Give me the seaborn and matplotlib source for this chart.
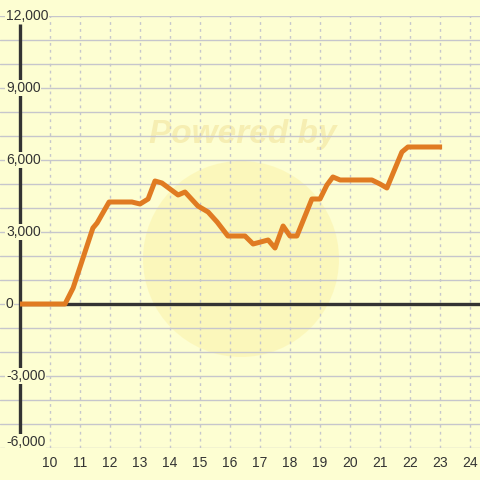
import matplotlib
matplotlib.use('Agg')
import matplotlib.pyplot as plt
import matplotlib.transforms as mtransforms
from matplotlib.patches import Circle
import pandas as pd
import seaborn as sns

# values
hours = [9.0, 10.5, 10.77, 11.43, 11.57, 11.97, 12.73, 13.0, 13.27, 13.5, 13.73,
         14.27, 14.5, 14.93, 15.27, 15.57, 15.93, 16.5, 16.77, 17.27, 17.5, 17.77,
         18.0, 18.23, 18.73, 19.0, 19.23, 19.43, 19.67, 20.73, 21.0, 21.23, 21.73,
         21.93, 23.07]
balance = [0, 0, 667, 3167, 3375, 4250, 4250, 4167, 4375, 5125, 5042,
           4542, 4667, 4083, 3833, 3417, 2833, 2833, 2500, 2667, 2333, 3250,
           2833, 2833, 4375, 4375, 4958, 5292, 5167, 5167, 5000, 4833, 6333,
           6542, 6542]
x_ticks = list(range(10, 25))
y_labels = [12000, 9000, 6000, 3000, 0, -3000, -6000]

bg = '#fdfed2'
sns.set_style('whitegrid', {'axes.facecolor': bg, 'figure.facecolor': bg})
plt.rcParams['font.family'] = ['Liberation Sans', 'DejaVu Sans']

fig = plt.figure(figsize=(4.8, 4.8), dpi=100)
ax = fig.add_axes([0, 32 / 480, 1, 432 / 480])

df = pd.DataFrame({'hour': hours, 'balance': balance})

# watermark
ax.add_patch(Circle((241 / 480, 1 - 259 / 480), 98 / 480, transform=fig.transFigure,
                    facecolor='#fbf1a6', alpha=0.5, edgecolor='none', zorder=0.2))
ax.text(243 / 480, 1 - 134 / 480, 'Powered by', transform=fig.transFigure,
        ha='center', va='center', fontsize=24, fontweight='bold', fontstyle='italic',
        color='#f6eeb2', zorder=0.3)

ax.set_xlim(10 - 50 / 30, 10 + 430 / 30)
ax.set_ylim(-6000, 12000)
ax.set_xticks(x_ticks)
ax.set_yticks(range(-6000, 12001, 1000))
ax.set_yticklabels([])
ax.grid(axis='y', color='#c6c6cc', linewidth=1, linestyle='-')
ax.grid(axis='x', color='#c6c6cc', linewidth=1, linestyle=(0, (2, 3)))
ax.tick_params(axis='x', length=0, pad=6, labelsize=10, labelcolor='#333333')
ax.tick_params(axis='y', length=0)
for s in ax.spines.values():
    s.set_visible(False)

# axis lines
ax.plot([9, 9], [-5500, 11667], color='#333333', lw=2.4, zorder=2, solid_capstyle='butt')
ax.plot([9, 10 + 430 / 30], [0, 0], color='#333333', lw=2.4, zorder=2, solid_capstyle='butt')

sns.lineplot(data=df, x='hour', y='balance', ax=ax, color='#e07b22', lw=3.6,
             zorder=3, solid_capstyle='butt')
ax.set_xlabel('')
ax.set_ylabel('')

trans = mtransforms.blended_transform_factory(ax.transAxes, ax.transData)
for v in y_labels:
    yy = v + 250 if v == -6000 else v
    ax.text(6 / 480, yy, f'{v:,}', transform=trans, ha='left', va='center',
            fontsize=10, color='#333333', zorder=4,
            bbox=dict(facecolor=bg, edgecolor='none', pad=0.5))

fig.savefig('out.png', dpi=100, facecolor=bg)
